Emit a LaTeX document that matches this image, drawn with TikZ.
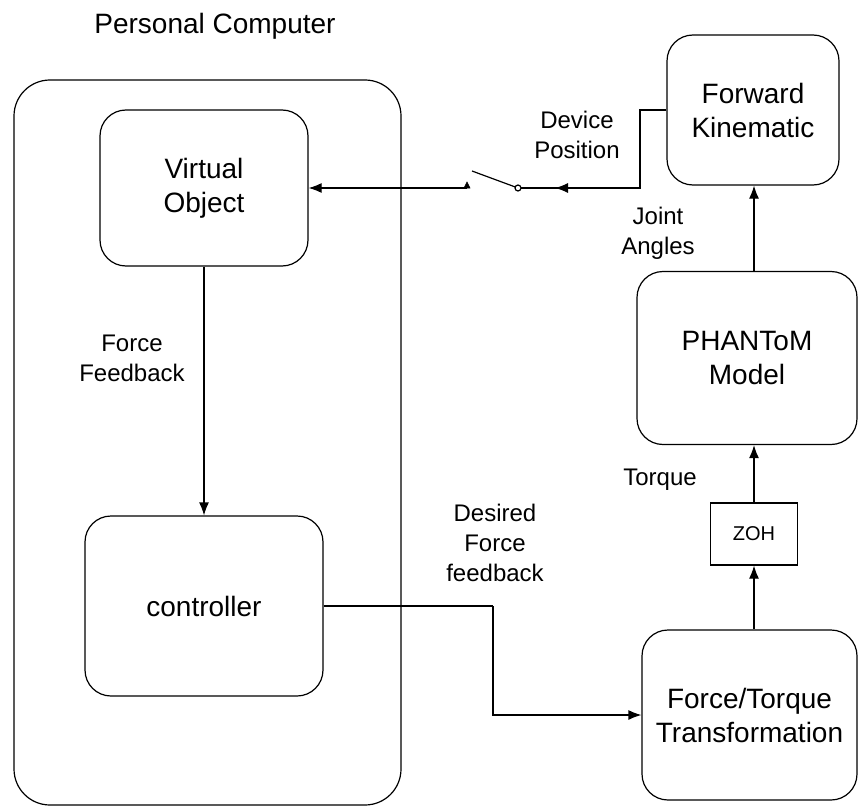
\documentclass[tikz,border=0pt]{standalone}
\usepackage{fontspec}
\setmainfont{Liberation Sans}
\usepackage{tikz}
\usetikzlibrary{arrows.meta,positioning,calc}

\begin{document}
\begin{tikzpicture}[
x=1pt,y=-1pt,
line width=1.2pt,
block/.style={draw,rounded corners=26pt,align=center,font=\fontsize{28}{34}\selectfont},
label/.style={align=center,font=\fontsize{24}{30}\selectfont},
arr/.style={-{Latex[length=13pt,width=10pt]}}]
    \useasboundingbox (0,0) rectangle (860,808);

    % Draw the personal computer frame
    \node (pc) [draw,rounded corners=36pt,minimum width=387pt,minimum height=725pt] at (207.5,442.5) {};
    \node (pctitle) [font=\fontsize{28}{34}\selectfont] at (215,26) {Personal Computer};

    \node (vobj) [block,minimum width=208pt,minimum height=156pt] at (204,188) {Virtual\\Object};
    \node (ctrl) [block,minimum width=238pt,minimum height=180pt] at (204,606) {controller};

    % Draw the device side
    \node (fwd) [block,minimum width=172pt,minimum height=150pt] at (753,110) {Forward\\Kinematic};
    \node (phantom) [block,minimum width=220pt,minimum height=173pt] at (747,358) {PHANToM\\Model};
    \node (zoh) [draw,minimum width=87pt,minimum height=62pt,font=\fontsize{20}{24}\selectfont] at (754,534) {ZOH};
    \node (ftt) [block,minimum width=215pt,minimum height=170pt] at (749.5,715) {Force/Torque\\Transformation};

    \draw[arr] (ftt.north -| zoh.south) -- (zoh.south);
    \draw[arr] (zoh.north) -- (phantom.south -| zoh.north);
    \draw[arr] (phantom.north -| zoh.north) -- (fwd.south -| zoh.north);
    \draw[arr] (vobj.south) -- (ctrl.north);

    % Switch between device position and virtual object
    \coordinate (bend) at (640,188);
    \coordinate (swin) at (555,188);
    \coordinate (sw1) at (518,188);
    \coordinate (sw0) at (467,188);
    \coordinate (lever) at (472,171);
    \draw (fwd.west) -| (bend) -- (sw1);
    \draw[arr] (bend) -- (swin);
    \draw (sw1) -- (lever);
    \draw[fill=white] (sw1) circle (3pt);
    \draw[fill=black,line width=0.6pt] ($(sw0)+(-3,0)$) -- ($(sw0)+(3,0)$) -- ($(sw0)+(0,-6)$) -- cycle;
    \draw[arr] (sw0) -- (vobj.east);

    \coordinate (dbend) at (493,606);
    \draw (ctrl.east) -- (dbend);
    \draw[arr] (dbend) |- (ftt.west);

    \node (devpos) [label] at (577,135) {Device\\Position};
    \node (joint) [label] at (658,233) {Joint\\Angles};
    \node (torque) [label] at (660,480) {Torque};
    \node (ffb) [label] at (132,358) {Force\\Feedback};
    \node (dffb) [label] at (495,543) {Desired\\Force\\feedback};
\end{tikzpicture}
\end{document}
